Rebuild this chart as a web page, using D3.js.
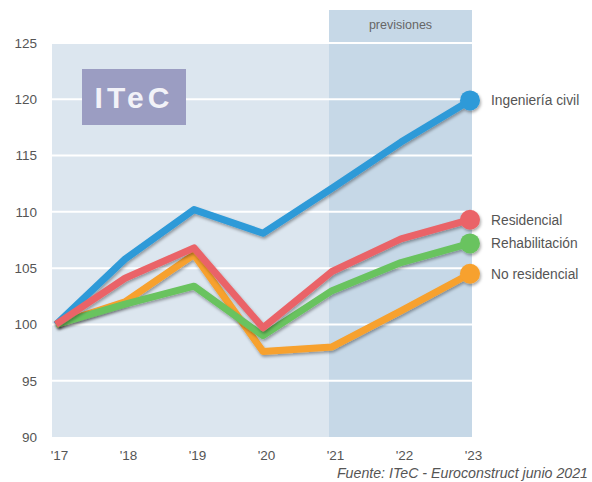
<!DOCTYPE html>
<html>
<head>
<meta charset="utf-8">
<script src="https://cdn.jsdelivr.net/npm/d3@7"></script>
<style>
  body { margin: 0; background: #fff; }
  svg { font-family: "Liberation Sans", Arial, sans-serif; }
</style>
</head>
<body>
<svg id="chart"></svg>
<script>
// Data
const years = ["'17", "'18", "'19", "'20", "'21", "'22", "'23"];
const yTicks = [90, 95, 100, 105, 110, 115, 120, 125];
const seriesNames = ["Ingeniería civil", "Residencial", "Rehabilitación", "No residencial"];
const ingenieria = [100, 105.8, 110.2, 108.1, 112.1, 116.2, 119.9];
const residencial = [100, 104.1, 106.8, 99.7, 104.7, 107.6, 109.3];
const rehabilitacion = [100, 101.8, 103.4, 99.0, 103.0, 105.5, 107.2];
const noResidencial = [100, 102.0, 106.2, 97.6, 98.0, 101.2, 104.5];
const forecastFrom = "'21";

const colors = ['#2e9ad8', '#ea6468', '#69c35f', '#f7a12d'];
const values = [ingenieria, residencial, rehabilitacion, noResidencial];

const width = 592;
const height = 482;

const svg = d3.select("#chart")
    .attr("width", width)
    .attr("height", height);

const x = d3.scalePoint()
    .domain(years)
    .range([56, 470]);

const y = d3.scaleLinear()
    .domain([90, 125])
    .range([437, 43]);

const plotLeft = 52, plotRight = 472;

// Shadow filter
const defs = svg.append("defs");
const shadow = defs.append("filter")
    .attr("id", "shadow")
    .attr("x", "-10%").attr("y", "-10%")
    .attr("width", "120%").attr("height", "130%");
shadow.append("feDropShadow")
    .attr("dx", 1).attr("dy", 2)
    .attr("stdDeviation", 1.5)
    .attr("flood-color", "#000")
    .attr("flood-opacity", 0.35);

// Background of plot area
svg.append("rect")
    .attr("x", plotLeft)
    .attr("y", y(125))
    .attr("width", plotRight - plotLeft)
    .attr("height", y(90) - y(125))
    .attr("fill", "#dce6ef");

// Forecast band
const bandX = x(forecastFrom) - 3;
svg.append("rect")
    .attr("x", bandX)
    .attr("y", 10)
    .attr("width", plotRight - bandX)
    .attr("height", y(90) - 10)
    .attr("fill", "#c6d8e7");

svg.append("text")
    .attr("x", (bandX + plotRight) / 2)
    .attr("y", 29)
    .attr("text-anchor", "middle")
    .attr("font-size", 12.5)
    .attr("fill", "#666")
    .text("previsiones");

// Gridlines
svg.append("g")
    .selectAll("line")
    .data(yTicks.filter(d => d > 90))
    .join("line")
    .attr("x1", plotLeft)
    .attr("x2", plotRight)
    .attr("y1", d => y(d))
    .attr("y2", d => y(d))
    .attr("stroke", "#fff")
    .attr("stroke-width", 2);

// Y axis labels
const yAxis = svg.append("g")
    .attr("transform", "translate(37,0)")
    .call(d3.axisLeft(y).tickValues(yTicks).tickSize(0).tickPadding(0));
yAxis.select(".domain").remove();
yAxis.selectAll("text")
    .attr("font-size", 13.5)
    .attr("font-family", "Liberation Sans, Arial, sans-serif")
    .attr("fill", "#555");

// X axis labels
const xAxis = svg.append("g")
    .attr("transform", "translate(3,450)")
    .call(d3.axisBottom(x).tickSize(0).tickPadding(0));
xAxis.select(".domain").remove();
xAxis.selectAll("text")
    .attr("font-size", 13.5)
    .attr("font-family", "Liberation Sans, Arial, sans-serif")
    .attr("fill", "#555");

// ITeC logo
svg.append("rect")
    .attr("x", 82)
    .attr("y", 69)
    .attr("width", 104)
    .attr("height", 56)
    .attr("fill", "#9b9dc2");
svg.append("text")
    .attr("x", 134)
    .attr("y", 108)
    .attr("text-anchor", "middle")
    .attr("font-size", 30)
    .attr("font-weight", "bold")
    .attr("letter-spacing", 4)
    .attr("fill", "#f2f2f8")
    .text("ITeC");

// Lines
const line = d3.line()
    .x((d, i) => x(years[i]))
    .y(d => y(d));

const order = [0, 3, 2, 1];
const series = svg.append("g")
    .selectAll("g")
    .data(order)
    .join("g")
    .attr("filter", "url(#shadow)");

series.append("path")
    .attr("d", i => line(values[i]))
    .attr("fill", "none")
    .attr("stroke", i => colors[i])
    .attr("stroke-width", 7)
    .attr("stroke-linejoin", "round");

series.append("circle")
    .attr("cx", x(years[years.length - 1]))
    .attr("cy", i => y(values[i][values[i].length - 1]))
    .attr("r", 10)
    .attr("fill", i => colors[i]);

// Series labels
svg.append("g")
    .selectAll("text")
    .data(seriesNames)
    .join("text")
    .attr("x", 491)
    .attr("y", (d, i) => y(values[i][values[i].length - 1]) + 5)
    .attr("font-size", 13.8)
    .attr("fill", "#555")
    .text(d => d);

// Source
svg.append("text")
    .attr("x", 588)
    .attr("y", 478)
    .attr("text-anchor", "end")
    .attr("font-size", 14.2)
    .attr("font-style", "italic")
    .attr("fill", "#555")
    .text("Fuente: ITeC - Euroconstruct junio 2021");
</script>
</body>
</html>
